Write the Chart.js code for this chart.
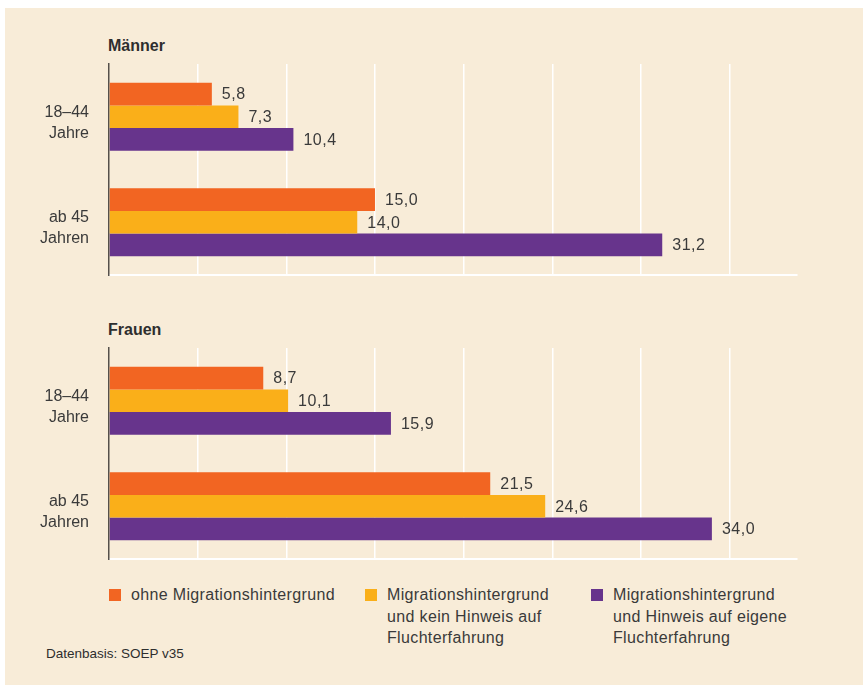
<!DOCTYPE html>
<html>
<head>
<meta charset="utf-8">
<script src="https://cdn.jsdelivr.net/npm/chart.js@4"></script>
<style>
  html, body { margin: 0; padding: 0; background: #fff; }
  body { width: 863px; height: 685px; position: relative; overflow: hidden;
         font-family: "Liberation Sans", Arial, Helvetica, sans-serif; color: #3a3a3a; }
  #panel { position: absolute; left: 5px; top: 8px; right: 0; bottom: 0; background: #f8ecd8; }
  canvas { position: absolute; left: 0; }
  .title { position: absolute; left: 108px; font-weight: bold; font-size: 16px; line-height: 16px; color: #2e2e2e; }
  .legend-item { position: absolute; top: 584px; font-size: 16px; line-height: 21.5px; letter-spacing: 0.35px; }
  .legend-item .box { position: absolute; left: 0; top: 5px; width: 12px; height: 12px; }
  .legend-item .txt { position: absolute; left: 22px; top: 0; white-space: nowrap; }
  #source { position: absolute; left: 46px; top: 646px; font-size: 13.5px; line-height: 16px; color: #2e2e2e; }
</style>
</head>
<body>
<div id="panel"></div>
<div class="title" style="top:38px">Männer</div>
<div class="title" style="top:322px">Frauen</div>
<canvas id="chartMaenner" width="863" height="232" style="top:54px"></canvas>
<canvas id="chartFrauen" width="863" height="232" style="top:338px"></canvas>
<div id="legend"></div>
<div id="source">Datenbasis: SOEP v35</div>
<script>
// Altersgruppen (Kategorien)
const ageGroups = [['18–44', 'Jahre'], ['ab 45', 'Jahren']];

// Serien
const seriesNames = [
  ['ohne Migrationshintergrund'],
  ['Migrationshintergrund', 'und kein Hinweis auf', 'Fluchterfahrung'],
  ['Migrationshintergrund', 'und Hinweis auf eigene', 'Fluchterfahrung']
];
const seriesColors = ['#f26522', '#faaf19', '#67348c'];

// Werte Männer
const maennerOhne = [5.8, 15.0];
const maennerKein = [7.3, 14.0];
const maennerFlucht = [10.4, 31.2];

// Werte Frauen
const frauenOhne = [8.7, 21.5];
const frauenKein = [10.1, 24.6];
const frauenFlucht = [15.9, 34.0];

const textColor = '#3a3a3a';
const fontFamily = '"Liberation Sans", Arial, Helvetica, sans-serif';

// value labels to the right of each bar
const valueLabels = {
  id: 'valueLabels',
  afterDatasetsDraw(chart) {
    const ctx = chart.ctx;
    ctx.save();
    ctx.font = '16px ' + fontFamily;
    ctx.fillStyle = textColor;
    ctx.textAlign = 'left';
    ctx.textBaseline = 'middle';
    if ('letterSpacing' in ctx) ctx.letterSpacing = '0.5px';
    chart.data.datasets.forEach((ds, i) => {
      chart.getDatasetMeta(i).data.forEach((bar, j) => {
        const txt = ds.data[j].toFixed(1).replace('.', ',');
        ctx.fillText(txt, bar.x + 10, bar.y + 1);
      });
    });
    ctx.restore();
  }
};

function makeChart(id, ohne, kein, flucht) {
  const values = [ohne, kein, flucht];
  return new Chart(document.getElementById(id), {
    type: 'bar',
    data: {
      labels: ageGroups,
      datasets: values.map((v, i) => ({
        label: seriesNames[i].join(' '),
        data: v,
        backgroundColor: seriesColors[i],
        borderWidth: 0,
        categoryPercentage: 0.645,
        barPercentage: 1
      }))
    },
    options: {
      indexAxis: 'y',
      responsive: false,
      animation: false,
      layout: { padding: { left: 0, top: 10, right: 66, bottom: 11 } },
      plugins: { legend: { display: false }, tooltip: { enabled: false } },
      scales: {
        x: {
          min: 0,
          max: 38.8,
          ticks: { display: false, stepSize: 5 },
          afterBuildTicks: s => { s.ticks = s.ticks.filter(t => t.value % 5 === 0); },
          afterFit: s => { s.height = 0; s.paddingLeft = 0; s.paddingRight = 0; },
          grid: {
            color: c => (c.tick && c.tick.value === 0) ? 'rgba(0,0,0,0)' : '#ffffff',
            lineWidth: 1.5,
            drawTicks: false
          },
          border: { display: true, color: '#ffffff', width: 2 }
        },
        y: {
          afterFit: s => { s.width = 109; s.paddingTop = 0; s.paddingBottom = 0; },
          grid: { display: false },
          border: { display: true, color: '#55504b', width: 1.5 },
          ticks: {
            color: textColor,
            padding: 12,
            labelOffset: 6,
            font: { family: fontFamily, size: 16, lineHeight: 1.32 }
          }
        }
      }
    },
    plugins: [valueLabels]
  });
}

makeChart('chartMaenner', maennerOhne, maennerKein, maennerFlucht);
makeChart('chartFrauen', frauenOhne, frauenKein, frauenFlucht);

// legend
const legendX = [109, 365, 591];
const legend = document.getElementById('legend');
seriesNames.forEach((lines, i) => {
  const item = document.createElement('div');
  item.className = 'legend-item';
  item.style.left = legendX[i] + 'px';
  const box = document.createElement('div');
  box.className = 'box';
  box.style.background = seriesColors[i];
  const txt = document.createElement('div');
  txt.className = 'txt';
  txt.innerHTML = lines.join('<br>');
  item.appendChild(box);
  item.appendChild(txt);
  legend.appendChild(item);
});
</script>
</body>
</html>
